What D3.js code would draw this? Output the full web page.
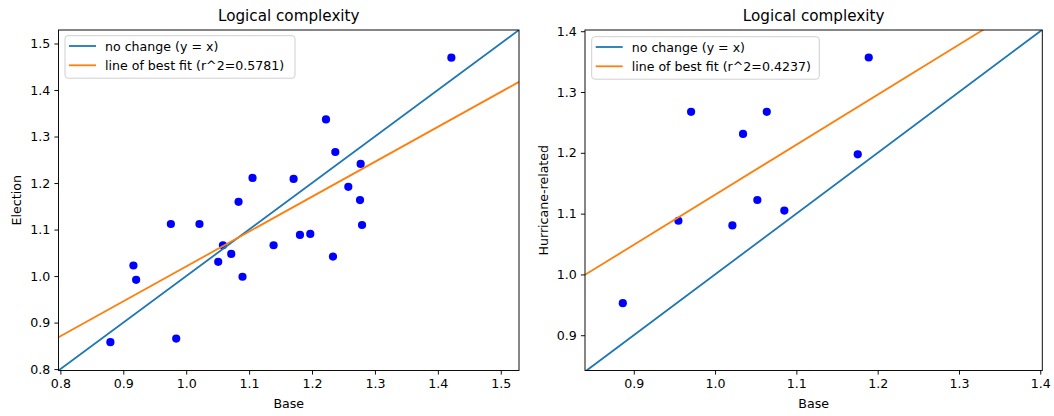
<!DOCTYPE html>
<html><head><meta charset="utf-8">
<script src="https://cdn.jsdelivr.net/npm/d3@7"></script>
<style>
html,body{margin:0;padding:0;background:#fff;}
svg text{font-family:"DejaVu Sans",sans-serif;}
</style></head>
<body><svg id="c" width="1054" height="416"></svg>
<script>
// ---- data ----
const electionBase = [1.4215,1.2222,1.2370,1.2773,1.1054,1.1707,1.2577,1.2763,1.0832,0.9756,1.0211,1.1808,1.1972,1.2795,1.0584,1.1389,1.0716,1.0509,0.9161,0.9204,1.0895,1.2333,0.8795,0.9841];
const electionVals = [1.4694,1.3367,1.2667,1.2410,1.2110,1.2089,1.1918,1.1633,1.1597,1.1119,1.1119,1.0884,1.0905,1.1098,1.0663,1.0663,1.0477,1.0306,1.0227,0.9920,0.9985,1.0419,0.8578,0.8657];
const hurricaneBase = [0.9705,1.0636,1.0344,1.0520,1.0852,0.9549,1.0213,0.8865,1.1890,1.1755];
const hurricaneVals = [1.2674,1.2674,1.2311,1.1224,1.1051,1.0883,1.0806,0.9527,1.3568,1.1975];
const electionFit = {slope:0.750, intercept:0.2707, r2:"0.5781"};
const hurricaneFit = {slope:0.823, intercept:0.308, r2:"0.4237"};
const electionTicks = [0.8,0.9,1.0,1.1,1.2,1.3,1.4,1.5];
const hurricaneTicks = [0.9,1.0,1.1,1.2,1.3,1.4];
const electionLimits = [0.797,1.529];
const hurricaneXLimits = [0.840,1.4025];
const hurricaneYLimits = [0.842,1.402];
const titleText = "Logical complexity";
const xLabel = "Base";

const svg = d3.select("#c");
const FS = 12.6;
const BLUE="#1f77b4", ORANGE="#ff7f0e";

function panel(cfg){
  const {x0,x1,y0,y1,xd,yd,ticks,xs,ys,fit,ylabel,ylabelX,id,leg} = cfg;
  const x = d3.scaleLinear().domain(xd).range([x0,x1]);
  const y = d3.scaleLinear().domain(yd).range([y1,y0]);
  const g = svg.append("g");
  g.append("clipPath").attr("id",id).append("rect").attr("x",x0).attr("y",y0).attr("width",x1-x0).attr("height",y1-y0);
  // points
  g.append("g").selectAll("circle").data(xs.map((v,i)=>[v,ys[i]])).join("circle")
    .attr("cx",d=>x(d[0])).attr("cy",d=>y(d[1])).attr("r",4.1).attr("fill","#0000ff");
  // lines
  const lo = Math.min(xd[0],yd[0]), hi = Math.max(xd[1],yd[1]);
  const line = d3.line().x(d=>x(d[0])).y(d=>y(d[1]));
  const lg = g.append("g").attr("clip-path",`url(#${id})`);
  lg.append("path").attr("d",line([[lo,lo],[hi,hi]])).attr("stroke",BLUE).attr("stroke-width",1.8).attr("fill","none");
  lg.append("path").attr("d",line([[xd[0],fit.slope*xd[0]+fit.intercept],[xd[1],fit.slope*xd[1]+fit.intercept]]))
    .attr("stroke",ORANGE).attr("stroke-width",1.8).attr("fill","none");
  // axes
  const ax = g.append("g").attr("transform",`translate(0,${y1})`)
    .call(d3.axisBottom(x).tickValues(ticks.filter(t=>t>=xd[0]&&t<=xd[1])).tickFormat(d3.format(".1f")).tickSize(4.1).tickPadding(4.1));
  const ay = g.append("g").attr("transform",`translate(${x0},0)`)
    .call(d3.axisLeft(y).tickValues(ticks.filter(t=>t>=yd[0]&&t<=yd[1])).tickFormat(d3.format(".1f")).tickSize(4.1).tickPadding(4.1));
  [ax,ay].forEach(a=>{a.select(".domain").remove();a.selectAll("text").attr("font-size",FS).attr("fill","#000").attr("font-family","DejaVu Sans");a.selectAll("line").attr("stroke","#000").attr("stroke-width",0.95);});
  g.append("rect").attr("x",x0).attr("y",y0).attr("width",x1-x0).attr("height",y1-y0).attr("fill","none").attr("stroke","#000").attr("stroke-width",0.95);
  // title & labels
  g.append("text").attr("x",(x0+x1)/2).attr("y",y0-9).attr("text-anchor","middle").attr("font-size",15.2).text(titleText);
  g.append("text").attr("x",(x0+x1)/2).attr("y",408).attr("text-anchor","middle").attr("font-size",FS).text(xLabel);
  g.append("text").attr("transform",`translate(${ylabelX},${(y0+y1)/2}) rotate(-90)`).attr("text-anchor","middle").attr("font-size",FS).text(ylabel);
  // legend
  const L = g.append("g");
  L.append("rect").attr("x",leg.x).attr("y",leg.y).attr("width",leg.w).attr("height",42.5).attr("rx",3)
    .attr("fill","#fff").attr("fill-opacity",0.8).attr("stroke","#cccccc").attr("stroke-width",0.95);
  const items = [["no change (y = x)",BLUE],[`line of best fit (r^2=${fit.r2})`,ORANGE]];
  items.forEach((it,i)=>{
    const cy = leg.y+10.3+i*19.3;
    L.append("line").attr("x1",leg.x+4).attr("x2",leg.x+31).attr("y1",cy).attr("y2",cy).attr("stroke",it[1]).attr("stroke-width",1.8);
    L.append("text").attr("x",leg.x+40).attr("y",cy+4.5).attr("font-size",FS).text(it[0]);
  });
}

panel({x0:58.5,x1:519,y0:30,y1:370.5,xd:electionLimits,yd:electionLimits,ticks:electionTicks,
  xs:electionBase,ys:electionVals,fit:electionFit,ylabel:"Election",ylabelX:20.5,id:"c1",
  leg:{x:65,y:35.7,w:230}});
panel({x0:585,x1:1042.3,y0:30,y1:370.5,xd:hurricaneXLimits,yd:hurricaneYLimits,ticks:hurricaneTicks,
  xs:hurricaneBase,ys:hurricaneVals,fit:hurricaneFit,ylabel:"Hurricane-related",ylabelX:547.8,id:"c2",
  leg:{x:591.7,y:36.7,w:227.6}});
</script></body></html>
